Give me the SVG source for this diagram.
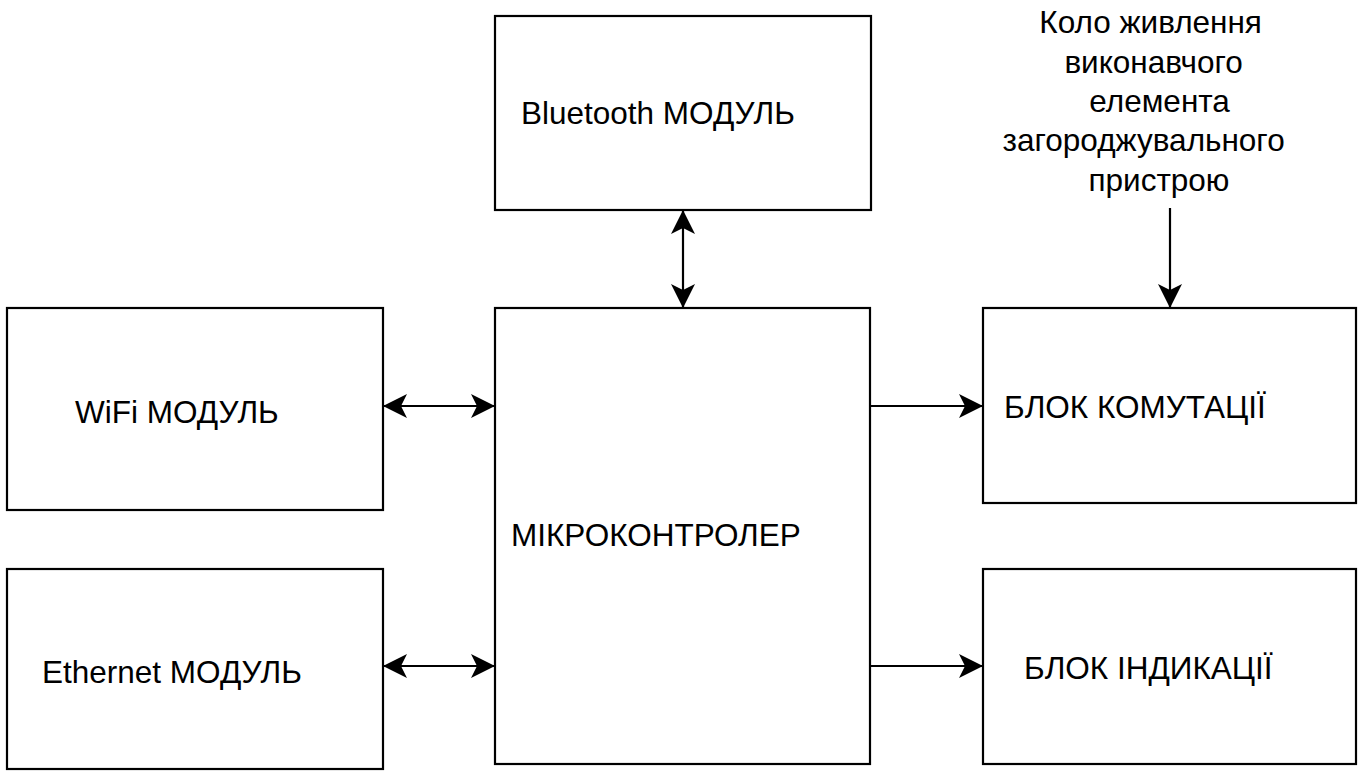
<svg xmlns="http://www.w3.org/2000/svg" width="1360" height="772" viewBox="0 0 1360 772">
  <style>
    .box { fill: #ffffff; stroke: #000000; stroke-width: 2.2; }
    .lbl { font-family: "Liberation Sans", Arial, sans-serif; font-size: 31.5px; fill: #000000; }
    .wire { stroke: #000000; stroke-width: 2.2; fill: none; }
  </style>
  <defs>
    <marker id="head" viewBox="0 0 26 26" refX="24" refY="13" markerWidth="26" markerHeight="26" markerUnits="userSpaceOnUse" orient="auto-start-reverse">
      <path d="M24,13 L0,1 L6,13 L0,25 Z" fill="#000000"/>
    </marker>
  </defs>
  <rect width="1360" height="772" fill="#ffffff"/>

  <g id="bluetooth">
    <rect class="box" x="495" y="16" width="376" height="194"/>
    <text class="lbl" x="521" y="124">Bluetooth МОДУЛЬ</text>
  </g>
  <g id="wifi">
    <rect class="box" x="7" y="308" width="376" height="202"/>
    <text class="lbl" x="75" y="423">WiFi МОДУЛЬ</text>
  </g>
  <g id="ethernet">
    <rect class="box" x="7" y="569" width="376" height="200"/>
    <text class="lbl" x="42" y="683">Ethernet МОДУЛЬ</text>
  </g>
  <g id="mcu">
    <rect class="box" x="495" y="308" width="375" height="456"/>
    <text class="lbl" x="511" y="546">МІКРОКОНТРОЛЕР</text>
  </g>
  <g id="switching">
    <rect class="box" x="983" y="308" width="373" height="195"/>
    <text class="lbl" x="1004" y="418">БЛОК КОМУТАЦІЇ</text>
  </g>
  <g id="indication">
    <rect class="box" x="983" y="569" width="373" height="195"/>
    <text class="lbl" x="1024" y="679">БЛОК ІНДИКАЦІЇ</text>
  </g>
  <g id="power-label">
    <text class="lbl" text-anchor="middle">
      <tspan x="1155" y="33">Коло живлення</tspan>
      <tspan x="1158" y="73">виконавчого</tspan>
      <tspan x="1164" y="112">елемента</tspan>
      <tspan x="1148" y="151">загороджувального</tspan>
      <tspan x="1159" y="191">пристрою</tspan>
    </text>
  </g>

  <g id="connectors">
    <line class="wire" x1="683" y1="210" x2="683" y2="308" marker-start="url(#head)" marker-end="url(#head)"/>
    <line class="wire" x1="383" y1="406" x2="495" y2="406" marker-start="url(#head)" marker-end="url(#head)"/>
    <line class="wire" x1="383" y1="666" x2="495" y2="666" marker-start="url(#head)" marker-end="url(#head)"/>
    <line class="wire" x1="870" y1="406" x2="983" y2="406" marker-end="url(#head)"/>
    <line class="wire" x1="870" y1="666" x2="983" y2="666" marker-end="url(#head)"/>
    <line class="wire" x1="1170" y1="208" x2="1170" y2="308" marker-end="url(#head)"/>
  </g>
</svg>
